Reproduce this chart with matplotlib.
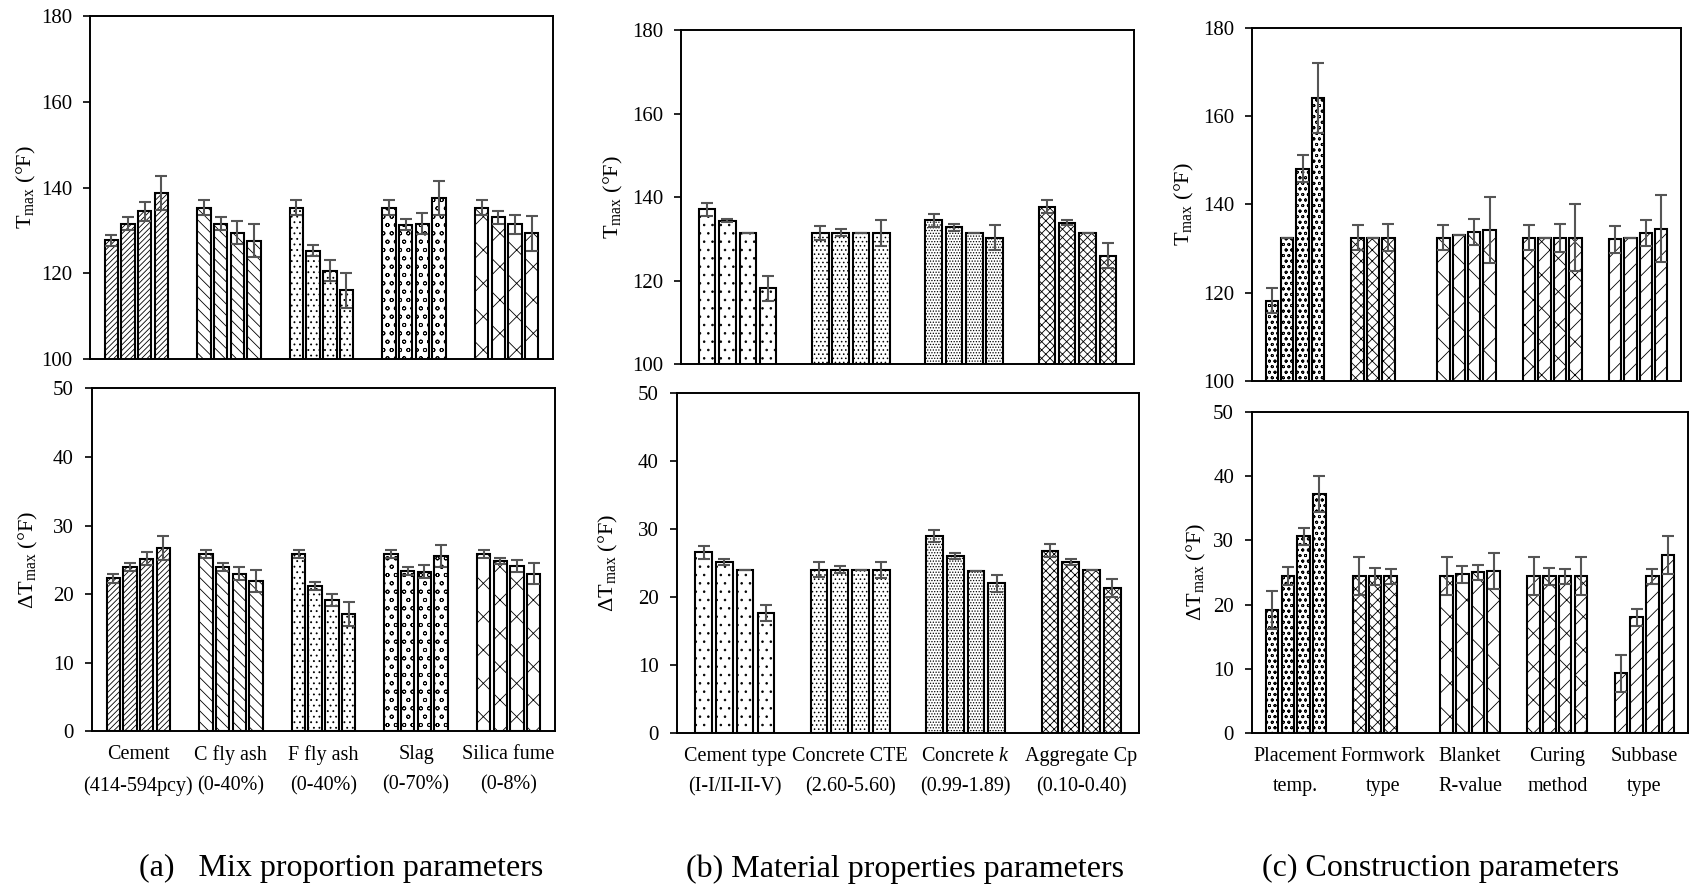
import matplotlib
matplotlib.use("Agg")
import matplotlib.pyplot as plt
import numpy as np

plt.rcParams["font.family"] = ["Liberation Serif", "DejaVu Serif"]
plt.rcParams["mathtext.fontset"] = "custom"
plt.rcParams["mathtext.rm"] = "Liberation Serif"
plt.rcParams["mathtext.it"] = "Liberation Serif:italic"
plt.rcParams["hatch.linewidth"] = 0.6

# (a) mix proportion parameters
mix_labels = ["Cement\n(414-594pcy)", "C fly ash\n(0-40%)", "F fly ash\n(0-40%)",
              "Slag\n(0-70%)", "Silica fume\n(0-8%)"]
mix_tmax = [[127.7, 131.6, 134.5, 138.7],
            [135.3, 131.6, 129.5, 127.6],
            [135.3, 125.3, 120.6, 116.0],
            [135.3, 131.3, 131.6, 137.6],
            [135.3, 133.1, 131.4, 129.3]]
mix_tmax_err = [[1.3, 1.5, 2.2, 4.0],
                [1.7, 1.5, 2.6, 3.9],
                [1.7, 1.2, 2.5, 4.0],
                [1.7, 1.3, 2.5, 4.0],
                [1.7, 1.5, 2.3, 4.0]]
mix_dt = [[22.3, 24.0, 25.2, 26.7],
          [25.9, 24.0, 23.0, 21.9],
          [25.9, 21.2, 19.2, 17.1],
          [25.9, 23.4, 23.3, 25.6],
          [25.9, 24.9, 24.1, 23.0]]
mix_dt_err = [[0.7, 0.55, 0.9, 1.75],
              [0.6, 0.55, 0.9, 1.65],
              [0.6, 0.6, 0.9, 1.8],
              [0.6, 0.6, 1.0, 1.6],
              [0.6, 0.45, 0.9, 1.55]]
mix_hatches = ["//////", "\\\\\\", "...", "oo", "x"]

# (b) material properties parameters
mat_labels = ["Cement type\n(I-I/II-II-V)", "Concrete CTE\n(2.60-5.60)",
              "Concrete $k$\n(0.99-1.89)", "Aggregate Cp\n(0.10-0.40)"]
mat_tmax = [[137.1, 134.4, 131.5, 118.2],
            [131.5, 131.5, 131.5, 131.5],
            [134.5, 132.8, 131.5, 130.3],
            [137.8, 133.9, 131.5, 126.0]]
mat_tmax_err = [[1.6, 0.4, 0.0, 3.0],
                [1.6, 0.8, 0.0, 3.1],
                [1.6, 0.8, 0.0, 3.0],
                [1.5, 0.6, 0.0, 3.0]]
mat_dt = [[26.6, 25.2, 24.0, 17.7],
          [24.0, 24.0, 24.0, 24.0],
          [29.0, 26.0, 23.8, 22.0],
          [26.8, 25.2, 24.0, 21.3]]
mat_dt_err = [[0.95, 0.45, 0.0, 1.2],
              [1.1, 0.5, 0.0, 1.2],
              [0.9, 0.45, 0.0, 1.2],
              [0.95, 0.45, 0.0, 1.3]]
mat_hatches = ["..", "....", "......", "xxxx"]

# (c) construction parameters (formwork type has three cases)
con_labels = ["Placement\ntemp.", "Formwork\ntype", "Blanket\nR-value",
              "Curing\nmethod", "Subbase\ntype"]
con_tmax = [[118.2, 132.5, 148.1, 164.0],
            [132.5, 132.5, 132.5],
            [132.5, 133.2, 133.8, 134.2],
            [132.5, 132.5, 132.5, 132.5],
            [132.1, 132.5, 133.6, 134.5]]
con_tmax_err = [[2.8, 0.0, 3.0, 7.9],
                [2.8, 0.0, 3.0],
                [2.8, 0.0, 3.0, 7.5],
                [2.8, 0.0, 3.2, 7.6],
                [3.1, 0.0, 3.0, 7.6]]
con_dt = [[19.2, 24.4, 30.6, 37.2],
          [24.4, 24.4, 24.4],
          [24.4, 24.7, 25.0, 25.2],
          [24.4, 24.4, 24.4, 24.4],
          [9.3, 18.0, 24.4, 27.7]]
con_dt_err = [[2.95, 1.4, 1.3, 2.85],
              [2.95, 1.3, 1.15],
              [2.95, 1.3, 1.15, 2.85],
              [2.95, 1.3, 1.15, 2.95],
              [2.85, 1.35, 1.15, 2.9]]
con_hatches = ["ooo", "xxx", "x", "x/", "//"]

BAR_W = 0.145
PITCH = 0.18
TMAX_LABEL = r"T$_{\rm max}$ (°F)"
DT_LABEL = r"ΔT$_{\rm max}$ (°F)"


def draw_panel(ax, values, errors, hatches, ylim, ystep, ylabel, label_x, xlabels=None):
    offsets = (np.arange(4) - 1.5) * PITCH
    for i, (vals, errs, h) in enumerate(zip(values, errors, hatches)):
        xs = i + offsets[:len(vals)]
        ax.bar(xs, vals, width=BAR_W, color="white", edgecolor="black",
               linewidth=1.5, hatch=h, zorder=2)
        ax.errorbar(xs, vals, yerr=errs, fmt="none", ecolor="#555555",
                    elinewidth=1.5, capsize=4, capthick=1.5, zorder=3)
    ax.set_xlim(-0.5, len(values) - 0.5)
    ax.set_ylim(*ylim)
    ax.set_yticks(np.arange(ylim[0], ylim[1] + 1, ystep))
    ax.tick_params(axis="y", direction="out", length=5, width=1.2,
                   labelsize=15, pad=8)
    ax.set_xticks(range(len(values)))
    if xlabels is None:
        ax.set_xticklabels([])
    else:
        ax.set_xticklabels(xlabels, fontsize=14.5, linespacing=1.8)
    ax.tick_params(axis="x", length=0, pad=10)
    for sp in ax.spines.values():
        sp.set_linewidth(1.4)
    ax.set_ylabel(ylabel, fontsize=16)
    ax.yaxis.set_label_coords(label_x, 0.5)


fig = plt.figure(figsize=(16.92, 8.93), dpi=100)

ax_a1 = fig.add_axes([0.0532, 0.598, 0.2736, 0.384])
ax_a2 = fig.add_axes([0.0544, 0.181, 0.2736, 0.384])
ax_b1 = fig.add_axes([0.4025, 0.592, 0.2677, 0.374])
ax_b2 = fig.add_axes([0.4001, 0.179, 0.2730, 0.381])
ax_c1 = fig.add_axes([0.7400, 0.573, 0.2535, 0.396])
ax_c2 = fig.add_axes([0.7400, 0.179, 0.2577, 0.360])

draw_panel(ax_a1, mix_tmax, mix_tmax_err, mix_hatches, (100, 180), 20, TMAX_LABEL, -0.112)
draw_panel(ax_a2, mix_dt, mix_dt_err, mix_hatches, (0, 50), 10, DT_LABEL, -0.112, mix_labels)
draw_panel(ax_b1, mat_tmax, mat_tmax_err, mat_hatches, (100, 180), 20, TMAX_LABEL, -0.124)
draw_panel(ax_b2, mat_dt, mat_dt_err, mat_hatches, (0, 50), 10, DT_LABEL, -0.123, mat_labels)
draw_panel(ax_c1, con_tmax, con_tmax_err, con_hatches, (100, 180), 20, TMAX_LABEL, -0.13)
draw_panel(ax_c2, con_dt, con_dt_err, con_hatches, (0, 50), 10, DT_LABEL, -0.10, con_labels)

fig.text(341 / 1692, 0.027, "(a)   Mix proportion parameters", fontsize=23,
         ha="center", va="center")
fig.text(905 / 1692, 0.027, "(b) Material properties parameters", fontsize=23,
         ha="center", va="center")
fig.text(1441 / 1692, 0.027, "(c) Construction parameters", fontsize=23,
         ha="center", va="center")

fig.savefig("out.png", dpi=100)
